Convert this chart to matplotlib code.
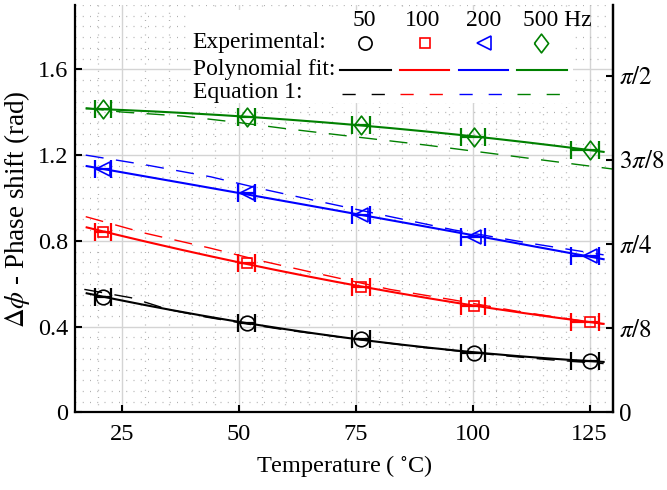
import numpy as np
import matplotlib
matplotlib.use("Agg")
import matplotlib.pyplot as plt
from matplotlib.ticker import MultipleLocator, FixedLocator
from matplotlib.patches import Rectangle

plt.rcParams['font.family'] = ['Liberation Serif', 'DejaVu Serif']
plt.rcParams['mathtext.fontset'] = 'stix'

# measured temperatures (deg C) and horizontal error
temp = [21.0, 51.7, 76.2, 100.4, 125.0]
temp_err_lo = [1.8, 1.8, 1.9, 2.8, 4.0]
temp_err_hi = [1.8, 1.8, 1.8, 2.2, 2.1]

freqs = ['50', '100', '200', '500']
colors = ['black', 'red', 'blue', 'green']

# phase shift (rad) per frequency
phase_50 = [0.540, 0.416, 0.341, 0.279, 0.240]
phase_100 = [0.843, 0.696, 0.586, 0.496, 0.423]
phase_200 = [1.133, 1.023, 0.921, 0.819, 0.730]
phase_500 = [1.414, 1.379, 1.339, 1.286, 1.224]

# Equation 1 curves
eq_temp_50 = [17, 27, 35, 43, 52, 60, 75, 90, 105, 117, 128]
eq_50 = [0.574, 0.535, 0.480, 0.445, 0.412, 0.385, 0.342, 0.302, 0.268, 0.245, 0.228]
eq_temp_100 = [17.3, 30, 43.8, 55, 65.2, 82.3, 95.8, 110, 128]
eq_100 = [0.913, 0.836, 0.767, 0.706, 0.656, 0.574, 0.525, 0.470, 0.412]
eq_temp_200 = [17.3, 30, 44, 55, 67, 82, 96, 112, 128]
eq_200 = [1.200, 1.155, 1.099, 1.042, 0.985, 0.915, 0.851, 0.790, 0.735]
eq_temp_500 = [17.3, 25, 38, 50, 59.5, 75, 90, 104, 115, 130]
eq_500 = [1.420, 1.401, 1.382, 1.352, 1.325, 1.285, 1.247, 1.208, 1.177, 1.135]

phases = [phase_50, phase_100, phase_200, phase_500]
eq_temps = [eq_temp_50, eq_temp_100, eq_temp_200, eq_temp_500]
eqs = [eq_50, eq_100, eq_200, eq_500]

diamond = [(-0.38, 0), (0, 0.5), (0.38, 0), (0, -0.5), (-0.38, 0)]
markers = ['o', 's', '<', diamond]
msizes = [10.5, 6.8, 10.5, 13.5]

fig = plt.figure(figsize=(6.67, 4.90), dpi=100)
ax = fig.add_axes([0.1124, 0.1582, 0.8066, 0.8316])

ax.set_xlim(15, 130)
ax.set_ylim(0, 1.9)

# fitted curves and data
tt = np.linspace(17.5, 128, 200)
for y, c, m, ms, et, ev in zip(phases, colors, markers, msizes, eq_temps, eqs):
    coef = np.polyfit(temp, y, 2)
    ax.plot(tt, np.polyval(coef, tt), color=c, lw=1.5, zorder=3)
    ax.plot(et, ev, color=c, lw=1.0, dashes=(13, 9), zorder=3)
    ax.errorbar(temp, y, xerr=[temp_err_lo, temp_err_hi], fmt='none',
                ecolor=c, elinewidth=1.6, capsize=6.5, capthick=1.6, zorder=4)
    ax.plot(temp, y, ls='none', marker=m, ms=ms, mfc='none', mec=c,
            mew=1.2, zorder=5)

# grids
ax.xaxis.set_major_locator(FixedLocator([25, 50, 75, 100, 125]))
ax.yaxis.set_major_locator(FixedLocator([0, 0.4, 0.8, 1.2, 1.6]))
ax.set_yticklabels(['0', '0.4', '0.8', '1.2', '1.6'])
ax.xaxis.set_minor_locator(MultipleLocator(5))
ax.yaxis.set_minor_locator(MultipleLocator(0.05))
ax.set_axisbelow(True)
ax.grid(which='major', color='#d4d4d4', lw=1.0)
ax.grid(which='minor', color='#b0b0b0', lw=0.9, dashes=(0.8, 5))
ax.tick_params(which='minor', length=0)
ax.tick_params(which='major', direction='in', length=5, width=1.5,
               labelsize=17.5, pad=5)
ax.tick_params(axis='x', pad=8)

for s in ['left', 'bottom', 'right']:
    ax.spines[s].set_linewidth(1.6)
ax.spines['top'].set_visible(False)

ax.set_xlabel(r'Temperature ( $^{\circ}$C)', fontsize=17.5, labelpad=6)
ax.set_ylabel(r'$\Delta\phi$ - Phase shift (rad)', fontsize=19.5, labelpad=4)

# right axis in fractions of pi
ax2 = ax.twinx()
ax2.set_ylim(0, 1.9)
ax2.set_yticks([0, np.pi / 8, np.pi / 4, 3 * np.pi / 8, np.pi / 2])
ax2.set_yticklabels(['0', r'$\pi/8$', r'$\pi/4$', r'$3\pi/8$', r'$\pi/2$'])
ax2.tick_params(direction='in', length=5, width=1.5, labelsize=18, pad=4)
ax2.spines['right'].set_linewidth(1.6)
ax2.spines['top'].set_visible(False)
ax2.spines['left'].set_visible(False)
ax2.spines['bottom'].set_visible(False)

# key table
ax.add_patch(Rectangle((0.2156, 0.7595), 0.71, 0.2285, transform=ax.transAxes,
                       facecolor='white', edgecolor='none', zorder=1))
tk = dict(transform=ax.transAxes, fontsize=17, va='baseline', zorder=6)
ax.text(0.537, 0.948, '50', ha='center', **tk)
ax.text(0.647, 0.948, '100', ha='center', **tk)
ax.text(0.759, 0.948, '200', ha='center', **tk)
ax.text(0.833, 0.948, '500 Hz', ha='left', **tk)
ax.text(0.219, 0.894, 'Experimental:', ha='left', **tk)
ax.text(0.219, 0.828, 'Polynomial fit:', ha='left', **tk)
ax.text(0.219, 0.771, 'Equation 1:', ha='left', **tk)

key_x = [0.539, 0.6506, 0.760, 0.8666]
solid_x = [(0.4926, 0.587), (0.6041, 0.6952), (0.7138, 0.8048), (0.8216, 0.9145)]
dash_x = [(0.496, 0.576), (0.604, 0.688), (0.714, 0.796), (0.822, 0.903)]
key_ms = [9.5, 6.8, 10.5, 13.5]
for kx, sx, dx, c, m, ms in zip(key_x, solid_x, dash_x, colors, markers, key_ms):
    ax.plot([kx], [0.906], transform=ax.transAxes, ls='none', marker=m, ms=ms,
            mfc='none', mec=c, mew=1.2, clip_on=False, zorder=6)
    ax.plot(sx, [0.8405, 0.8405], transform=ax.transAxes, color=c, lw=1.5,
            clip_on=False, zorder=6)
    ax.plot(dx, [0.7816, 0.7816], transform=ax.transAxes, color=c, lw=1.0,
            dashes=(9.5, 11.5), clip_on=False, zorder=6)

fig.savefig('out.png', dpi=100)
